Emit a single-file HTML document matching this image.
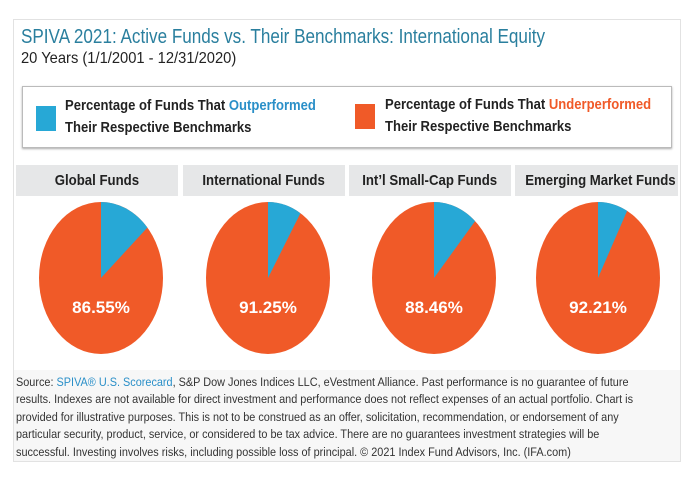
<!DOCTYPE html>
<html><head><meta charset="utf-8"><style>
body{margin:0;width:700px;height:478px;background:#fff;font-family:"Liberation Sans",sans-serif;position:relative;overflow:hidden}
.abs{position:absolute}
.sx{transform-origin:0 0;white-space:nowrap}
.frame{left:13px;top:19px;width:668px;height:443px;border:1px solid #e2e2e2;box-sizing:border-box}
.title{left:21px;top:26px;font-size:20px;color:#2a7f9e;transform:scaleX(0.855)}
.sub{left:21px;top:50px;font-size:16px;color:#222;transform:scaleX(0.92)}
.legend{left:22px;top:86px;width:650px;height:62px;border:1px solid #bbb;box-shadow:0 1px 2px #aaa;box-sizing:border-box}
.lt{font-size:14.5px;font-weight:bold;color:#222;line-height:22px;transform:scaleX(0.9)}
.hd{top:165px;height:31px;background:#e6e7e8;font-size:15px;font-weight:bold;color:#222;text-align:center;line-height:31px;white-space:nowrap}
.hd span{display:inline-block;transform:scaleX(0.88)}
.foot{left:14px;top:370px;width:666px;height:91px;background:#f7f7f7;overflow:hidden}
.ft{left:2px;top:4px;font-size:12.3px;color:#333;line-height:17.4px;transform:scaleX(0.885)}
</style></head><body>
<div class="abs frame"></div>
<div class="abs sx title">SPIVA 2021: Active Funds vs. Their Benchmarks: International Equity</div>
<div class="abs sx sub">20 Years (1/1/2001 - 12/31/2020)</div>
<div class="abs legend">
 <div class="abs" style="left:13px;top:19px;width:20px;height:25px;background:#27a8d6"></div>
 <div class="abs sx lt" style="left:42px;top:8px">Percentage of Funds That <span style="color:#2a8fc8">Outperformed</span><br>Their Respective Benchmarks</div>
 <div class="abs" style="left:332px;top:17px;width:20px;height:25px;background:#f05a28"></div>
 <div class="abs sx lt" style="left:362px;top:7px">Percentage of Funds That <span style="color:#f05a28">Underperformed</span><br>Their Respective Benchmarks</div>
</div>
<div class="abs hd" style="left:16px;width:162px"><span>Global Funds</span></div>
<div class="abs hd" style="left:183px;width:162px"><span>International Funds</span></div>
<div class="abs hd" style="left:349px;width:162px"><span>Int’l Small-Cap Funds</span></div>
<div class="abs hd" style="left:515px;width:163px"><span>Emerging Market Funds</span></div>
<svg class="abs" style="left:0;top:0" width="700" height="478">
 <g font-family="Liberation Sans, sans-serif" font-weight="bold" font-size="17" fill="#fff" text-anchor="middle">
 <ellipse cx="101" cy="278" rx="62" ry="76" fill="#f05a28"/>
 <path d="M101,278 L101,202 A62,76 0 0 1 147.4,227.5 Z" fill="#27a8d6"/>
 <text x="101" y="313">86.55%</text>
 <ellipse cx="268" cy="278" rx="62" ry="76" fill="#f05a28"/>
 <path d="M268,278 L268,202 A62,76 0 0 1 300.4,213.2 Z" fill="#27a8d6"/>
 <text x="268" y="313">91.25%</text>
 <ellipse cx="434" cy="278" rx="62" ry="76" fill="#f05a28"/>
 <path d="M434,278 L434,202 A62,76 0 0 1 475.1,221.1 Z" fill="#27a8d6"/>
 <text x="434" y="313">88.46%</text>
 <ellipse cx="598" cy="278" rx="62" ry="76" fill="#f05a28"/>
 <path d="M598,278 L598,202 A62,76 0 0 1 627.1,210.9 Z" fill="#27a8d6"/>
 <text x="598" y="313">92.21%</text>
 </g>
</svg>
<div class="abs foot"><div class="abs sx ft">Source: <span style="color:#2a8fc8">SPIVA® U.S. Scorecard</span>, S&amp;P Dow Jones Indices LLC, eVestment Alliance. Past performance is no guarantee of future<br>results. Indexes are not available for direct investment and performance does not reflect expenses of an actual portfolio. Chart is<br>provided for illustrative purposes. This is not to be construed as an offer, solicitation, recommendation, or endorsement of any<br>particular security, product, service, or considered to be tax advice. There are no guarantees investment strategies will be<br>successful. Investing involves risks, including possible loss of principal. © 2021 Index Fund Advisors, Inc. (IFA.com)</div></div>
</body></html>
